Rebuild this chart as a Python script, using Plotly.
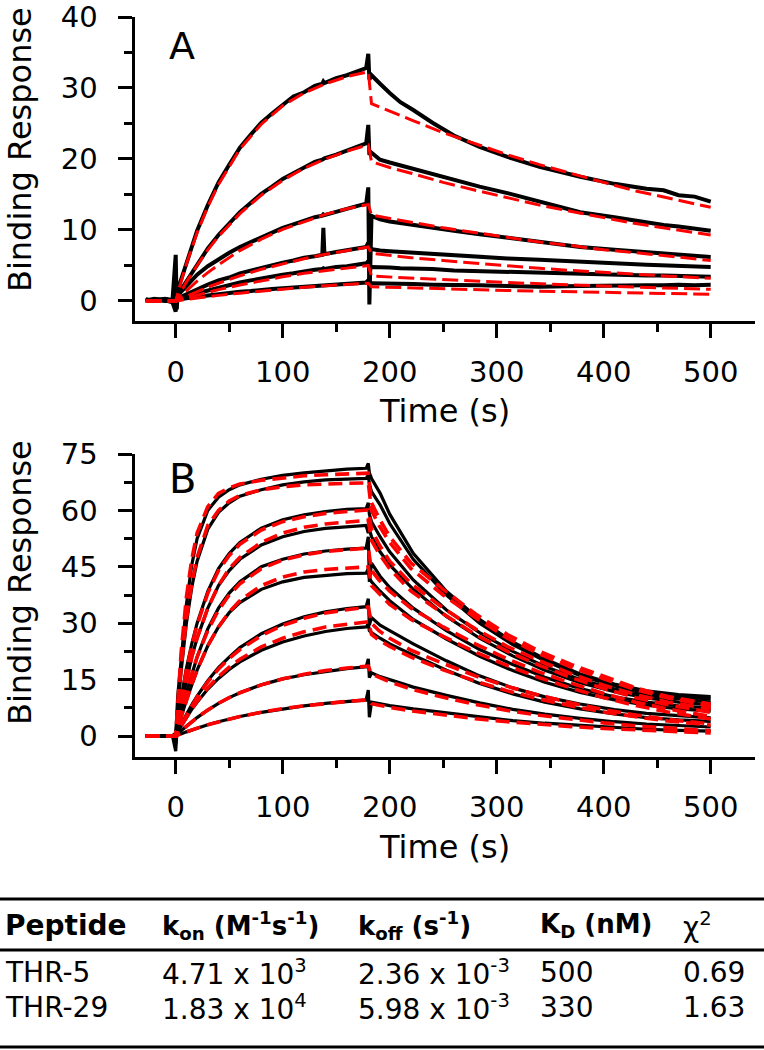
import plotly.graph_objects as go

W, H = 764, 1050
FONT = "DejaVu Sans, Liberation Sans, Arial, sans-serif"

# ---------------- Panel A (THR-5) ----------------
T_A = [-28, -20, -10, -3, 0, 1, 2, 5, 10, 15, 20, 30, 40, 50, 60, 70, 80, 90, 100, 110,
       120, 130, 137, 138, 139, 150, 160, 170, 178, 180, 181, 183, 186, 191, 200, 210, 222,
       240, 260, 284, 310, 340, 378, 410, 440, 456, 470, 485, 500]
A_DATA = [
    [0.2, 0.1, 0.3, 0.1, 6.5, -1.2, 1.6, 3.0, 5.6, 7.8, 9.9, 13.5, 16.7, 19.2, 21.6, 23.4, 25.1,
     26.4, 27.6, 28.8, 29.4, 30.3, 30.6, 30.9, 30.7, 31.4, 31.8, 32.4, 32.8, 34.8, 31.2, 31.8,
     31.3, 30.6, 29.3, 28.0, 26.9, 25.1, 23.3, 21.7, 20.3, 18.9, 17.5, 16.5, 15.8, 15.6, 14.9,
     14.7, 14.0],
    [0.1, 0.2, 0.0, 0.2, 1.0, 0.5, 0.9, 1.6, 2.9, 4.1, 5.3, 7.4, 9.3, 11.0, 12.5, 13.8, 15.1,
     16.1, 17.2, 18.0, 18.8, 19.6, 19.9, 20.0, 20.1, 20.6, 21.2, 21.8, 22.2, 24.8, 20.6, 20.9,
     20.5, 19.9, 19.5, 19.1, 18.6, 17.8, 17.0, 16.1, 15.2, 14.0, 12.5, 11.8, 11.0, 10.7, 10.5,
     10.2, 9.9],
    [0.0, 0.3, 0.1, -0.2, -1.5, 1.2, 0.8, 1.3, 2.2, 3.0, 3.7, 4.9, 5.9, 6.8, 7.6, 8.3, 9.0, 9.6,
     10.3, 10.8, 11.3, 11.8, 12.0, 12.2, 12.1, 12.6, 13.0, 13.4, 13.7, 16.0, -0.5, 12.0, 11.8,
     11.5, 11.2, 11.0, 10.8, 10.3, 9.9, 9.4, 8.9, 8.2, 7.6, 7.2, 6.9, 6.7, 6.5, 6.4, 6.2],
    [0.2, 0.0, 0.2, 0.1, 0.5, 0.3, 0.4, 0.6, 1.0, 1.4, 1.7, 2.3, 2.9, 3.3, 3.9, 4.3, 4.7, 5.1,
     5.4, 5.7, 6.1, 6.3, 6.5, 10.3, 6.6, 6.9, 7.1, 7.4, 7.6, 8.2, 7.0, 7.3, 7.2, 7.1, 7.0, 6.9,
     6.8, 6.6, 6.4, 6.2, 6.0, 5.8, 5.6, 5.3, 5.1, 5.0, 4.9, 4.9, 4.8],
    [0.0, 0.2, 0.1, 0.0, 0.4, 0.2, 0.5, 0.5, 0.7, 1.0, 1.1, 1.5, 1.9, 2.2, 2.6, 2.9, 3.2, 3.4,
     3.7, 3.9, 4.2, 4.4, 4.5, 4.6, 4.5, 4.8, 4.9, 5.1, 5.3, 5.6, 4.6, 4.8, 4.8, 4.7, 4.7, 4.6,
     4.6, 4.5, 4.3, 4.2, 4.1, 3.9, 3.8, 3.7, 3.6, 3.6, 3.5, 3.5, 3.4],
    [0.1, 0.0, 0.2, 0.1, 0.3, 0.1, 0.2, 0.3, 0.4, 0.5, 0.6, 0.8, 1.0, 1.1, 1.3, 1.4, 1.6, 1.7,
     1.8, 1.9, 2.0, 2.1, 2.2, 2.2, 2.1, 2.3, 2.4, 2.5, 2.6, 2.9, 2.4, 2.5, 2.5, 2.5, 2.4, 2.4,
     2.4, 2.3, 2.3, 2.2, 2.1, 2.0, 2.1, 2.2, 2.2, 2.2, 2.3, 2.2, 2.3],
]
T_A_FIT = [-28, -2, 0, 5, 10, 20, 30, 40, 60, 80, 100, 120, 140, 160, 180,
           183, 200, 220, 250, 280, 310, 340, 370, 400, 430, 460, 500]
A_FIT = [
    [0, 0, 0, 2.7, 5.2, 9.6, 13.3, 16.4, 21.4, 24.9, 27.5, 29.3, 30.6, 31.6, 32.3,
     27.8, 26.7, 25.5, 23.7, 22.1, 20.6, 19.2, 17.9, 16.7, 15.5, 14.5, 13.2],
    [0, 0, 0, 1.35, 2.66, 5.0, 7.2, 9.1, 12.3, 14.9, 17.0, 18.7, 20.0, 21.1, 22.0,
     19.6, 18.8, 18.0, 16.7, 15.6, 14.5, 13.5, 12.6, 11.7, 10.9, 10.2, 9.3],
    [0, 0, 0, 0.75, 1.46, 2.8, 4.0, 5.1, 7.1, 8.7, 10.1, 11.2, 12.2, 13.0, 13.6,
     12.1, 11.6, 11.1, 10.3, 9.6, 9.0, 8.3, 7.8, 7.2, 6.8, 6.3, 5.7],
    [0, 0, 0, 0.35, 0.69, 1.34, 1.95, 2.5, 3.55, 4.46, 5.26, 5.96, 6.57, 7.1, 7.6,
     6.7, 6.4, 6.1, 5.7, 5.3, 5.0, 4.6, 4.3, 4.0, 3.7, 3.5, 3.2],
    [0, 0, 0, 0.22, 0.43, 0.84, 1.2, 1.6, 2.25, 2.85, 3.4, 3.9, 4.3, 4.7, 5.0,
     3.5, 3.36, 3.2, 3.0, 2.8, 2.6, 2.4, 2.25, 2.1, 1.95, 1.82, 1.65],
    [0, 0, 0, 0.11, 0.21, 0.42, 0.6, 0.79, 1.1, 1.4, 1.7, 1.94, 2.15, 2.35, 2.5,
     2.0, 1.92, 1.83, 1.7, 1.6, 1.48, 1.38, 1.29, 1.2, 1.12, 1.04, 0.95],
]

# ---------------- Panel B (THR-29) ----------------
T_B = [-28, -15, -3, 0, 1, 2, 5, 10, 15, 20, 30, 40, 50, 60, 80, 100, 120, 140, 160, 178,
       180, 181, 183, 191, 200, 222, 253, 284, 315, 345, 378, 410, 440, 470, 500]
B_DATA = [
    [0, 0.1, -0.1, -1.0, 6, 11, 20, 35, 45.5, 52.5, 60, 63.5, 65.5, 66.8, 68.3, 69.3, 70, 70.5,
     71, 71.2, 72.5, 70, 68.5, 64.6, 59, 48.6, 38.5, 31, 25, 20.5, 16.5, 13.8, 12, 11, 10.5],
    [0.1, 0.0, 0.1, 0.5, 4, 8, 17, 30, 39.5, 46.5, 55, 59.5, 62, 63.8, 65.5, 66.8, 67.6, 68.1,
     68.4, 68.5, 69.5, 67, 65, 61.5, 56.5, 47, 37.5, 30, 24.3, 20, 16, 13.3, 11.5, 10.5, 9.8],
    [0, 0.1, 0, -4.0, 3, 5, 10, 18, 24.5, 30, 38.5, 44.5, 48.5, 51.5, 55.3, 57.5, 58.8, 59.7,
     60.3, 60.5, 62, 59, 57, 53, 49, 41.5, 33.5, 27.5, 22.5, 18.5, 15, 12.5, 10.8, 9.8, 9.0],
    [0.1, 0, 0.1, 0.8, 2, 4, 8, 15, 21, 26, 34, 40, 44, 47, 50.8, 53, 54.4, 55.2, 55.7, 56,
     54, 55, 53, 49, 45.5, 39, 31.8, 26, 21.3, 17.5, 14.2, 11.8, 10.1, 9.0, 8.3],
    [0, 0.1, 0, 0.3, 1.5, 3, 6, 11.5, 16.5, 21, 28.5, 34, 38, 41, 45, 47, 48.4, 49.2, 49.7, 50,
     53, 41, 46, 42.5, 39.5, 34, 28, 23, 19, 15.6, 12.6, 10.4, 9, 8.0, 7.4],
    [0.1, 0, 0.1, 0.2, 1.2, 2.5, 5, 9.5, 13.7, 17.5, 24, 29, 32.8, 35.5, 39, 41, 42.2, 42.8,
     43.2, 43.3, 44.5, 42, 41, 38.5, 36, 31, 25.8, 21.2, 17.4, 14.3, 11.6, 9.6, 8.2, 7.2, 6.6],
    [0, 0.1, 0, 0.3, 0.8, 1.5, 3.0, 5.7, 8.3, 10.6, 14.7, 18.2, 21.0, 23.5, 27.2, 29.8, 31.7,
     33.0, 33.9, 34.4, 36.5, 29.5, 31.5, 29.5, 28, 24.5, 20, 16, 12.8, 10.4, 8.5, 7.0, 6.0, 5.3, 4.8],
    [0.1, 0, 0.1, 0.2, 0.6, 1.2, 2.6, 5.0, 7.1, 9.0, 12.5, 15.3, 17.7, 19.7, 22.8, 25.0, 26.6,
     27.8, 28.6, 29.0, 29.8, 28, 27.5, 26, 24.5, 21.5, 17.5, 14, 11.2, 9.0, 7.2, 5.9, 4.9, 4.3, 3.9],
    [0, 0.1, 0, 0.2, 0.4, 0.6, 1.4, 2.6, 3.8, 4.9, 6.9, 8.7, 10.2, 11.5, 13.6, 15.2, 16.3, 17.2,
     17.9, 18.4, 20.5, 15.5, 16.8, 15.8, 15, 13, 10.8, 8.8, 7.1, 5.8, 4.7, 3.8, 3.2, 2.7, 2.4],
    [0.1, 0, 0.1, -2.0, 0.3, 0.4, 0.56, 1.1, 1.6, 2.1, 3.0, 3.8, 4.5, 5.2, 6.3, 7.2, 8.0, 8.7,
     9.2, 9.6, 12.2, 5.0, 9.0, 8.5, 8.1, 7.2, 6.1, 5.0, 4.1, 3.4, 2.8, 2.2, 1.8, 1.5, 1.3],
]
T_B_FIT = [-28, -2, 0, 5, 10, 15, 20, 30, 40, 50, 60, 80, 100, 120, 140, 160, 180,
           183, 190, 200, 220, 250, 280, 310, 340, 370, 400, 430, 460, 500]
B_FIT = [
    [0, 0, 0, 22, 37, 47, 54, 61, 64.5, 66, 67, 68, 68.7, 69.2, 69.5, 69.8, 69.9,
     62, 58, 53, 46, 39, 32.5, 27, 22.5, 19, 15.8, 12.8, 10.5, 8.5],
    [0, 0, 0, 18, 31, 40.5, 47.5, 56, 60, 62.5, 64, 65.5, 66.3, 66.8, 67.1, 67.2, 67.3,
     60, 56, 51.5, 44.5, 37.5, 31.5, 26, 21.8, 18.3, 15.2, 12.3, 10.1, 8.0],
    [0, 0, 0, 9.5, 17.5, 24, 29.5, 38, 44, 48, 51, 54.8, 57, 58.3, 59.2, 59.7, 60.1,
     55, 51, 46.5, 40.5, 34, 28.5, 23.8, 20, 16.5, 13.5, 11, 9, 7.2],
    [0, 0, 0, 8, 15, 21, 26, 34, 40, 44.5, 47.5, 51.5, 54, 55.5, 56.4, 57, 57.4,
     52, 48.5, 44.5, 38.5, 32.5, 27, 22.5, 18.8, 15.5, 12.6, 10.2, 8.3, 6.3],
    [0, 0, 0, 6, 11.5, 16.5, 21, 28, 33.5, 37.5, 40.5, 44.5, 46.8, 48.2, 49.1, 49.6, 50,
     44, 41.5, 38.5, 34, 29, 24.5, 20.5, 17, 14, 11.3, 9, 7.2, 5.2],
    [0, 0, 0, 5, 9.5, 13.7, 17.5, 24, 29, 33, 36, 40, 42.3, 43.6, 44.3, 44.7, 45,
     40, 38, 35, 31, 26.5, 22.3, 18.7, 15.5, 12.7, 10.2, 8.1, 6.4, 4.5],
    [0, 0, 0, 2.95, 5.6, 8.1, 10.4, 14.4, 17.8, 20.6, 23.0, 26.7, 29.4, 31.3, 32.7, 33.6, 34.3,
     30, 28, 26, 22.8, 19.3, 16, 13.2, 10.8, 8.8, 7.0, 5.6, 4.4, 3.2],
    [0, 0, 0, 2.6, 5.0, 7.2, 9.2, 12.8, 15.8, 18.3, 20.4, 23.7, 26.0, 27.7, 29.0, 29.8, 30.4,
     27, 25.5, 23.8, 21, 17.6, 14.6, 12, 9.8, 8.0, 6.4, 5.1, 4.0, 2.9],
    [0, 0, 0, 1.37, 2.6, 3.8, 4.9, 6.9, 8.7, 10.2, 11.5, 13.6, 15.2, 16.4, 17.4, 18.1, 18.6,
     16.5, 15.6, 14.4, 12.5, 10.3, 8.4, 6.8, 5.5, 4.4, 3.5, 2.7, 2.1, 1.4],
    [0, 0, 0, 0.56, 1.1, 1.6, 2.1, 3.0, 3.8, 4.5, 5.2, 6.3, 7.3, 8.0, 8.7, 9.2, 9.6,
     8.6, 8.2, 7.6, 6.7, 5.6, 4.6, 3.8, 3.1, 2.5, 2.0, 1.6, 1.2, 0.8],
]

X_TICKS = [0, 100, 200, 300, 400, 500]
A_Y_TICKS = [0, 10, 20, 30, 40]
B_Y_TICKS = [0, 15, 30, 45, 60, 75]

# ---------------- Table ----------------
HEADERS = ["<b>Peptide</b>", "<b>k<sub>on</sub> (M<sup>-1</sup>s<sup>-1</sup>)</b>",
           "<b>k<sub>off</sub> (s<sup>-1</sup>)</b>", "<b>K<sub>D</sub> (nM)</b>", "χ<sup>2</sup>"]
PEPTIDES = ["THR-5", "THR-29"]
KON = ["4.71 x 10<sup>3</sup>", "1.83 x 10<sup>4</sup>"]
KOFF = ["2.36 x 10<sup>-3</sup>", "5.98 x 10<sup>-3</sup>"]
KD = ["500", "330"]
CHI2 = ["0.69", "1.63"]


def px(p):
    return p / W


def py(p):
    return 1 - p / H


fig = go.Figure()

for ys in A_DATA:
    fig.add_trace(go.Scatter(x=T_A, y=ys, mode="lines", xaxis="x", yaxis="y",
                             line=dict(color="black", width=4), showlegend=False,
                             hoverinfo="skip"))
for ys in A_FIT:
    fig.add_trace(go.Scatter(x=T_A_FIT, y=ys, mode="lines", xaxis="x", yaxis="y",
                             line=dict(color="#ff0000", width=3, dash="16px,6px"),
                             showlegend=False, hoverinfo="skip"))
for ys in B_DATA:
    fig.add_trace(go.Scatter(x=T_B, y=ys, mode="lines", xaxis="x2", yaxis="y2",
                             line=dict(color="black", width=3.2), showlegend=False,
                             hoverinfo="skip"))
for ys in B_FIT:
    fig.add_trace(go.Scatter(x=T_B_FIT, y=ys, mode="lines", xaxis="x2", yaxis="y2",
                             line=dict(color="#ff0000", width=3.6, dash="14px,7px"),
                             showlegend=False, hoverinfo="skip"))

tick_font = dict(family=FONT, size=29, color="black")
common = dict(showline=True, linecolor="black", linewidth=3, ticks="outside",
              ticklen=14, tickwidth=3, tickcolor="black", showgrid=False,
              zeroline=False, mirror=False, tickfont=tick_font, fixedrange=True,
              automargin=False)

x_dom = [px(134.5), px(755)]
x_range = [-38.5, 541.4]


def minor(d):
    return dict(dtick=d, tick0=0, ticks="outside", ticklen=8, tickwidth=3,
                tickcolor="black", showgrid=False)


fig.update_layout(
    width=W, height=H,
    margin=dict(l=0, r=0, t=0, b=0, autoexpand=False),
    paper_bgcolor="white", plot_bgcolor="white",
    xaxis=dict(domain=x_dom, range=x_range, anchor="y", tickvals=X_TICKS,
               minor=minor(50), ticklabelstandoff=9, **common),
    yaxis=dict(domain=[py(321), py(17)], range=[-2.82, 40], anchor="x",
               tickvals=A_Y_TICKS, minor=minor(5), ticklabelstandoff=14, **common),
    xaxis2=dict(domain=x_dom, range=x_range, anchor="y2", tickvals=X_TICKS,
                minor=minor(50), ticklabelstandoff=9, **common),
    yaxis2=dict(domain=[py(756.5), py(454)], range=[-5.45, 75], anchor="x2",
                tickvals=B_Y_TICKS, minor=minor(7.5), ticklabelstandoff=14, **common),
)

ann = []


def add_text(text, x, y, size, xanchor="left", angle=0):
    ann.append(dict(text=text, x=px(x), y=py(y), xref="paper", yref="paper",
                    xanchor=xanchor, yanchor="middle", showarrow=False,
                    textangle=angle,
                    font=dict(family=FONT, size=size, color="black")))


# panel letters
add_text("A", 182, 46, 38, xanchor="center")
add_text("B", 182, 479, 40, xanchor="center")
# axis titles
add_text("Binding Response", 20, 150, 32, xanchor="center", angle=-90)
add_text("Binding Response", 20, 583, 32, xanchor="center", angle=-90)
add_text("Time (s)", 444, 411, 32, xanchor="center")
add_text("Time (s)", 444, 847, 32, xanchor="center")

# table
COL_X = [3, 160, 356, 538, 681]
HEAD_SIZES = [28, 26, 26, 26, 28]
for cx, htxt, hs in zip(COL_X, HEADERS, HEAD_SIZES):
    add_text(htxt, cx, 925, hs)
ROW_Y = [972, 1007]
for i, ry in enumerate(ROW_Y):
    for cx, val in zip(COL_X, [PEPTIDES[i], KON[i], KOFF[i], KD[i], CHI2[i]]):
        add_text(val, cx, ry, 28)

fig.update_layout(annotations=ann)

shapes = []
for ly in [899, 950, 1047]:
    shapes.append(dict(type="line", xref="paper", yref="paper", x0=0, x1=1,
                       y0=py(ly), y1=py(ly), line=dict(color="black", width=3)))
fig.update_layout(shapes=shapes)

fig.write_html("out.html", config={"displayModeBar": False},
               post_script="document.body.style.margin='0';")
